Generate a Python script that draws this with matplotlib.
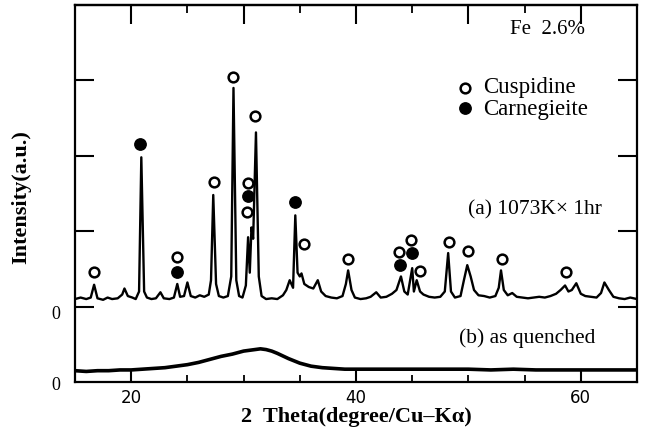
import matplotlib
matplotlib.use("Agg")
import matplotlib.pyplot as plt
from matplotlib.ticker import NullFormatter

# ---- data (y in axis units, 0..5) ----
two_theta_a = [15.0, 15.5, 16.0, 16.4, 16.7, 17.0, 17.5, 17.9, 18.3, 18.8, 19.2, 19.4, 19.7,
               20.1, 20.4, 20.7, 20.9, 21.15, 21.4, 21.8, 22.2, 22.6, 22.9, 23.4, 23.8, 24.1,
               24.35, 24.7, 25.0, 25.3, 25.7, 26.1, 26.5, 26.9, 27.1, 27.3, 27.55, 27.8, 28.2,
               28.6, 28.9, 29.1, 29.35, 29.6, 29.9, 30.2, 30.4, 30.55, 30.7, 30.85, 31.1, 31.35,
               31.6, 32.0, 32.5, 33.0, 33.5, 33.8, 34.1, 34.25, 34.4, 34.6, 34.8, 35.0, 35.15,
               35.4, 35.8, 36.2, 36.6, 36.9, 37.3, 37.8, 38.3, 38.8, 39.1, 39.3, 39.6, 39.9,
               40.4, 40.9, 41.3, 41.8, 42.2, 42.7, 43.2, 43.6, 44.0, 44.3, 44.6, 45.0, 45.15,
               45.4, 45.7, 46.0, 46.5, 47.0, 47.5, 47.9, 48.2, 48.45, 48.8, 49.3, 49.6, 49.9,
               50.2, 50.5, 50.9, 51.4, 51.9, 52.4, 52.7, 52.9, 53.15, 53.5, 53.9, 54.3, 54.8,
               55.3, 55.8, 56.3, 56.8, 57.3, 57.8, 58.2, 58.6, 58.9, 59.2, 59.6, 60.0, 60.4,
               60.9, 61.4, 61.8, 62.1, 62.5, 62.9, 63.4, 63.9, 64.4, 65.0]
intensity_a = [1.10, 1.12, 1.10, 1.12, 1.29, 1.11, 1.09, 1.12, 1.10, 1.11, 1.16, 1.24, 1.14,
               1.12, 1.10, 1.20, 2.98, 1.20, 1.12, 1.10, 1.11, 1.19, 1.11, 1.10, 1.12, 1.30,
               1.13, 1.14, 1.32, 1.14, 1.12, 1.15, 1.13, 1.16, 1.35, 2.48, 1.30, 1.14, 1.12,
               1.14, 1.40, 3.90, 1.35, 1.14, 1.12, 1.28, 1.92, 1.45, 2.05, 1.90, 3.31, 1.40,
               1.14, 1.10, 1.11, 1.10, 1.15, 1.22, 1.35, 1.30, 1.25, 2.21, 1.45, 1.40, 1.44,
               1.30, 1.26, 1.24, 1.35, 1.20, 1.14, 1.12, 1.11, 1.14, 1.30, 1.48, 1.22, 1.12,
               1.10, 1.11, 1.13, 1.19, 1.12, 1.13, 1.17, 1.22, 1.40, 1.20, 1.16, 1.51, 1.20,
               1.35, 1.20, 1.16, 1.13, 1.12, 1.13, 1.20, 1.71, 1.20, 1.12, 1.14, 1.35, 1.55,
               1.40, 1.22, 1.15, 1.14, 1.12, 1.14, 1.25, 1.48, 1.22, 1.15, 1.18, 1.13, 1.12,
               1.11, 1.12, 1.13, 1.12, 1.14, 1.17, 1.22, 1.28, 1.20, 1.22, 1.31, 1.17, 1.14,
               1.13, 1.12, 1.18, 1.32, 1.22, 1.13, 1.11, 1.10, 1.12, 1.10]

two_theta_b = [15.0, 16.0, 17.0, 18.0, 19.0, 20.0, 21.0, 22.0, 23.0, 24.0, 25.0, 26.0, 27.0,
               28.0, 29.0, 30.0, 30.5, 31.0, 31.5, 32.0, 32.5, 33.0, 34.0, 35.0, 36.0, 37.0,
               38.0, 39.0, 40.0, 42.0, 44.0, 46.0, 48.0, 50.0, 52.0, 54.0, 56.0, 58.0, 60.0,
               62.0, 64.0, 65.0]
intensity_b = [0.15, 0.14, 0.15, 0.15, 0.16, 0.16, 0.17, 0.18, 0.19, 0.21, 0.23, 0.26, 0.30,
               0.34, 0.37, 0.41, 0.42, 0.43, 0.44, 0.43, 0.41, 0.38, 0.31, 0.25, 0.21, 0.19,
               0.18, 0.17, 0.17, 0.17, 0.17, 0.17, 0.17, 0.17, 0.16, 0.17, 0.16, 0.16, 0.16,
               0.16, 0.16, 0.16]

cuspidine_x = [16.67, 24.1, 27.33, 29.1, 31.04, 30.38, 30.3, 35.33, 39.33, 43.87, 44.9, 45.7,
               48.3, 50.0, 53.0, 58.65]
cuspidine_y = [1.46, 1.66, 2.65, 4.05, 3.53, 2.64, 2.25, 1.83, 1.63, 1.72, 1.88, 1.47,
               1.86, 1.74, 1.63, 1.46]
carnegieite_x = [20.8, 24.07, 30.38, 34.53, 43.9, 44.96]
carnegieite_y = [3.16, 1.46, 2.47, 2.39, 1.55, 1.71]

x_ticks_labeled = [20, 40, 60]
y_zero_labels = ["0", "0"]

serif = ["Liberation Serif", "DejaVu Serif"]

fig = plt.figure(figsize=(6.47, 4.29), dpi=100)
ax = fig.add_axes([75 / 647, 47 / 429, 562 / 647, 377 / 429])

ax.plot(two_theta_a, intensity_a, color="black", lw=1.7, solid_joinstyle="round")
ax.plot(two_theta_b, intensity_b, color="black", lw=2.6, solid_joinstyle="round")

open_style = dict(ls="none", marker="o", ms=7.0, mfc="white", mec="black", mew=1.8)
fill_style = dict(ls="none", marker="o", ms=8.2, mfc="black", mec="black", mew=1.0)
ax.plot(cuspidine_x, cuspidine_y, **open_style)
ax.plot(carnegieite_x, carnegieite_y, **fill_style)

ax.set_xlim(15, 65)
ax.set_ylim(0, 5)

for s in ax.spines.values():
    s.set_linewidth(1.6)

# bottom ticks
ax.set_xticks(x_ticks_labeled)
ax.set_xticks([25, 30, 35, 45, 50, 55], minor=True)
ax.set_xticklabels([str(t) for t in x_ticks_labeled], fontsize=12,
                   family=["DejaVu Sans"])
ax.tick_params(axis="x", which="major", direction="in", length=9, width=1.5, pad=5,
               top=False)
ax.tick_params(axis="x", which="minor", direction="in", length=5, width=1.3, top=False)

# top ticks
top = ax.secondary_xaxis("top")
top.set_xticks([20, 30, 40, 50, 60])
top.set_xticks([25, 35, 45, 55], minor=True)
top.xaxis.set_major_formatter(NullFormatter())
top.tick_params(axis="x", which="major", direction="in", length=14, width=1.5)
top.tick_params(axis="x", which="minor", direction="in", length=6, width=1.3)
top.spines["top"].set_linewidth(1.6)

# y ticks
ax.set_yticks([1, 2, 3, 4])
ax.set_yticklabels([])
ax.tick_params(axis="y", which="major", direction="in", length=14, width=1.5,
               left=True, right=True)

ax.text(-0.035, -0.04, y_zero_labels[0], transform=ax.get_yaxis_transform(),
        ha="center", va="center", fontsize=13, family=serif)
ax.text(-0.035, 0.89, y_zero_labels[1], transform=ax.get_yaxis_transform(),
        ha="center", va="center", fontsize=13, family=serif)

ax.set_ylabel("Intensity(a.u.)", fontsize=16, fontweight="bold", family=serif)
ax.yaxis.set_label_coords(-0.078, 0.49)
fig.text(356 / 647, 1 - 417 / 429, "2  Theta(degree/Cu\u2013K\u03b1)", ha="center",
         va="center", fontsize=16, fontweight="bold", family=serif)

# annotations
fig.text(548 / 647, 1 - 30 / 429, "Fe  2.6%", ha="center", va="center", fontsize=15,
         family=serif)
ax.plot([(465 - 75) / 562], [(382 - 88) / 377], transform=ax.transAxes, clip_on=False,
        **open_style)
ax.plot([(465 - 75) / 562], [(382 - 108) / 377], transform=ax.transAxes, clip_on=False,
        **fill_style)
fig.text(483 / 647, 1 - 88 / 429, "Cuspidine", ha="left", va="center", fontsize=16.5,
         family=serif)
fig.text(483 / 647, 1 - 109 / 429, "Carnegieite", ha="left", va="center", fontsize=16.5,
         family=serif)
fig.text(535 / 647, 1 - 210 / 429, "(a) 1073K\u00d7 1hr", ha="center", va="center",
         fontsize=15.5, family=serif)
fig.text(527 / 647, 1 - 338 / 429, "(b) as quenched", ha="center", va="center",
         fontsize=15.5, family=serif)

fig.savefig("out.png", dpi=100)
